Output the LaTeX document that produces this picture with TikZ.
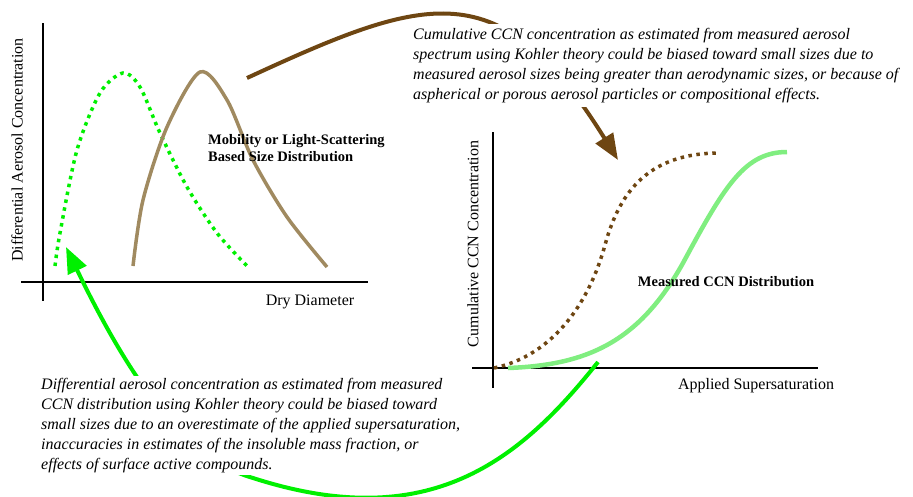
\documentclass[tikz,border=0pt]{standalone}
\usepackage{fontspec}
\setmainfont{Liberation Serif}
\usetikzlibrary{arrows.meta}
\definecolor{vert}{RGB}{0,240,0}
\definecolor{vertclair}{RGB}{128,238,128}
\definecolor{brun}{RGB}{110,70,18}
\definecolor{sable}{RGB}{160,138,96}

\begin{document}
\begin{tikzpicture}[x=1pt,y=-1pt]
\tikzset{axe/.style={line width=2pt},
  etiquette/.style={font=\fontsize{16}{19}\selectfont, inner sep=0pt},
  titre/.style={font=\fontsize{14.5}{17}\selectfont\bfseries, align=left, inner sep=0pt},
  note/.style={font=\fontsize{16}{20}\selectfont\itshape, align=left, fill=white, inner sep=4pt},
  pointille/.style={line width=3.5pt, dash pattern=on 3.5pt off 4.5pt},
  fleche/.style={line width=4pt, -{Triangle[length=26pt,width=20pt]}}}
\useasboundingbox (0,0) rectangle (913,496);
% graphe de gauche
\draw[axe] (43,23) -- (43,301);
\draw[axe] (21,282) -- (368,282);
\node[etiquette, rotate=90] (dac) at (17,150) {Differential Aerosol Concentration};
\node[etiquette] (dd) at (310,302) {Dry Diameter};
\draw[pointille, vert] plot[smooth] coordinates {(55,266) (60,233) (77,150) (100,93) (123,73) (140,87) (160,133) (187,187) (217,233) (248,267)};
\draw[line width=3.5pt, sable] plot[smooth] coordinates {(133,266) (143,200) (167,127) (200,72) (227,100) (253,160) (287,217) (327,267)};
\node[titre, anchor=west] (msd) at (208,148) {Mobility or Light-Scattering\\Based Size Distribution};
% graphe de droite
\draw[axe] (493,132) -- (493,388);
\draw[axe] (472,368) -- (818,368);
\node[etiquette, rotate=90] (ccc) at (473,244) {Cumulative CCN Concentration};
\node[etiquette] (as) at (756,386) {Applied Supersaturation};
\draw[line width=4.5pt, vertclair] (508,368) .. controls (590,365) and (640,340) .. (683,263) .. controls (725,185) and (745,152) .. (787,152);
\draw[pointille, brun] (494,368) .. controls (555,355) and (590,300) .. (605,245) .. controls (620,190) and (650,153) .. (720,153);
\node[titre] (mccn) at (726,282) {Measured CCN Distribution};
% fleches
\coordinate (B1) at (247,78);
\coordinate (B2) at (618,160);
\coordinate (G1) at (598,362);
\coordinate (G2) at (253,478);
\coordinate (G3) at (66,247);
\draw[fleche, brun] (B1) .. controls (427,-5) and (500,-30) .. (B2);
\draw[fleche, vert] (G1) .. controls (520,460) and (430,535) .. (G2) .. controls (190,460) and (135,390) .. (G3);
\node[note, anchor=north west] (haut) at (409,24) {Cumulative CCN concentration as estimated from measured aerosol\\spectrum using Kohler theory could be biased toward small sizes due to\\measured aerosol sizes being greater than aerodynamic sizes, or because of\\aspherical or porous aerosol particles or compositional effects.};
\node[note, inner sep=2pt, anchor=north west] (bas) at (39,376) {Differential aerosol concentration as estimated from measured\\CCN distribution using Kohler theory could be biased toward\\small sizes due to an overestimate of the applied supersaturation,\\inaccuracies in estimates of the insoluble mass fraction, or\\effects of surface active compounds.};
\end{tikzpicture}
\end{document}
